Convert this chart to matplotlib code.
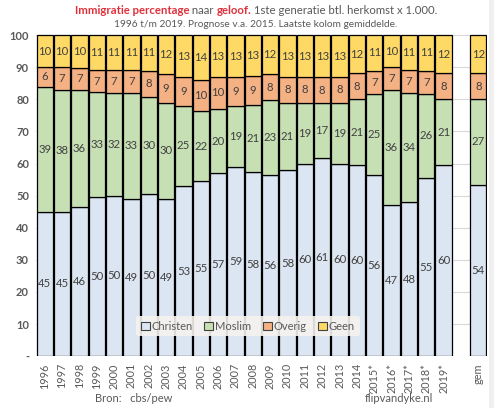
import numpy as np
import matplotlib.pyplot as plt
from matplotlib.patches import Patch, Rectangle

plt.rcParams['font.family'] = ['Lato', 'DejaVu Sans']

jaren = ['1996', '1997', '1998', '1999', '2000', '2001', '2002', '2003', '2004',
         '2005', '2006', '2007', '2008', '2009', '2010', '2011', '2012', '2013',
         '2014', '2015*', '2016*', '2017*', '2018*', '2019*', 'gem']
christen = [45, 45, 46, 50, 50, 49, 50, 49, 53, 55, 57, 59, 58, 56, 58, 60, 61, 60, 60,
            56, 47, 48, 55, 60, 54]
moslim = [39, 38, 36, 33, 32, 33, 30, 30, 25, 22, 20, 19, 21, 23, 21, 19, 17, 19, 21,
          25, 36, 34, 26, 21, 27]
overig = [6, 7, 7, 7, 7, 7, 8, 9, 9, 10, 10, 9, 9, 8, 8, 8, 8, 8, 8,
          7, 7, 7, 7, 8, 8]
geen = [10, 10, 10, 11, 11, 11, 11, 12, 13, 14, 13, 13, 13, 12, 13, 13, 13, 13, 12,
        11, 10, 11, 11, 12, 12]

namen = ['Christen', 'Moslim', 'Overig', 'Geen']
kleuren = ['#dce6f2', '#c6e0b4', '#f4b183', '#ffd966']
reeksen = [christen, moslim, overig, geen]

# gem staat een plek verder, er zit een lege kolom tussen
pos = np.arange(len(jaren), dtype=float)
pos[-1] += 1

# 100% gestapeld: elke kolom loopt tot 100 (afgeronde labels tellen niet altijd op)
data = np.array(reeksen, dtype=float)
aandeel = data / data.sum(axis=0) * 100

fig = plt.figure(figsize=(5, 4.08), dpi=100)
fig.patches.append(Rectangle((0.977, 0), 0.01, 1, transform=fig.transFigure,
                             facecolor='#f0f0f0', edgecolor='none', zorder=0))
ax = fig.add_axes([0.072, 0.127, 0.902, 0.79])

onder = np.zeros(len(jaren))
for naam, kleur, waarden, hoogte in zip(namen, kleuren, data, aandeel):
    ax.bar(pos, hoogte, bottom=onder, width=0.94, color=kleur,
           edgecolor='black', linewidth=0.9, zorder=2)
    for x, b, h, v in zip(pos, onder, hoogte, waarden):
        ax.text(x, b + h / 2, str(int(v)), ha='center', va='center',
                fontsize=8.2, color='#404040', zorder=3)
    onder += hoogte

ax.set_xlim(-0.5, pos[-1] + 0.5)
ax.set_ylim(0, 100.4)
ax.set_yticks(range(0, 101, 10))
ax.set_yticklabels(['-'] + [str(v) for v in range(10, 101, 10)],
                   fontsize=8, fontweight='bold', color='#595959')
ax.set_xticks(pos)
ax.set_xticklabels(jaren, rotation=90, fontsize=7.8, color='#595959')
ax.tick_params(length=0, pad=5)
ax.yaxis.grid(True, color='#d9d9d9', linewidth=0.8)
ax.set_axisbelow(True)
for s in ax.spines.values():
    s.set_visible(False)

handles = [Patch(facecolor=k, edgecolor='#404040', linewidth=0.8) for k in kleuren]
leg = ax.legend(handles, namen, loc='center', bbox_to_anchor=(0.47, 0.093), ncol=4,
                fontsize=8, frameon=True, handlelength=0.8, handleheight=0.8,
                handletextpad=0.2, columnspacing=1.0, borderpad=0.4)
leg.get_frame().set_facecolor('#f5f3ef')
leg.get_frame().set_edgecolor('none')
leg.get_frame().set_alpha(0.9)
for t in leg.get_texts():
    t.set_color('#595959')

# titel met gekleurde stukken
rood = '#e0303a'
grijs = '#595959'
delen = [('Immigratie percentage', rood, 'bold'), (' naar ', grijs, 'normal'),
         ('geloof.', rood, 'bold'), (' 1ste generatie btl. herkomst x 1.000.', grijs, 'normal')]
t0 = fig.text(0, 0.962, delen[0][0], color=delen[0][1], fontweight=delen[0][2],
              fontsize=8.2, va='bottom', ha='left')
vorige = t0
for tekst, kl, gw in delen[1:]:
    vorige = ax.annotate(tekst, xy=(1, 0), xycoords=vorige, va='bottom', ha='left',
                         color=kl, fontweight=gw, fontsize=8.2, annotation_clip=False)
fig.canvas.draw()
r = fig.canvas.get_renderer()
x0 = t0.get_window_extent(r).x0
x1 = vorige.get_window_extent(r).x1
breedte = (x1 - x0) / fig.bbox.width
t0.set_x(0.512 - breedte / 2)

fig.text(0.512, 0.941, '1996 t/m 2019. Prognose v.a. 2015. Laatste kolom gemiddelde.',
         ha='center', va='center', fontsize=7.3, color=grijs)

fig.text(0.19, 0.024, 'Bron:   cbs/pew', fontsize=8, color=grijs, va='center')
fig.text(0.73, 0.024, 'flipvandyke.nl', fontsize=8, color=grijs, va='center')

fig.savefig('out.png', dpi=100)
